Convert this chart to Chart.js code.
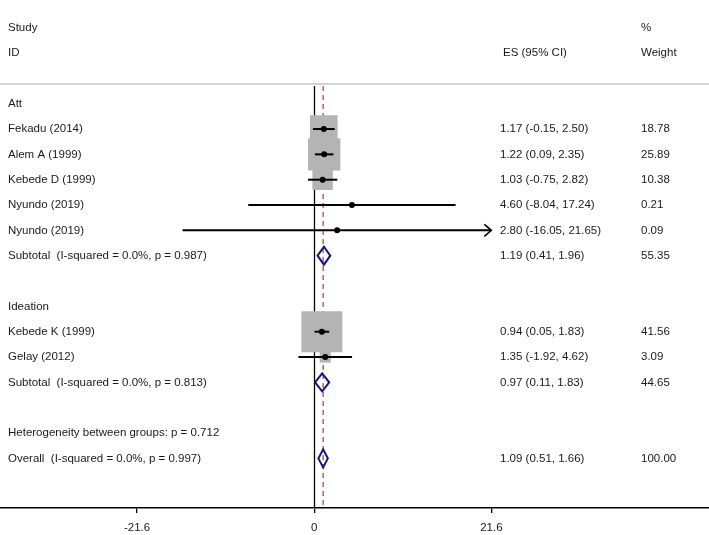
<!DOCTYPE html>
<html>
<head>
<meta charset="utf-8">
<script src="https://cdn.jsdelivr.net/npm/chart.js@4/dist/chart.umd.min.js"></script>
<style>
  html, body { margin: 0; padding: 0; background: #fff; }
  #wrap { width: 709px; height: 535px; position: relative; }
</style>
</head>
<body>
<div id="wrap"><canvas id="forest"></canvas></div>
<script>
// study rows
const studies = ["Fekadu (2014)", "Alem A (1999)", "Kebede D (1999)", "Nyundo (2019)", "Nyundo (2019)", "Kebede K (1999)", "Gelay (2012)"];
const studyRows = [1, 2, 3, 4, 5, 9, 10];
const es = [1.17, 1.22, 1.03, 4.60, 2.80, 0.94, 1.35];
const lower = [-0.15, 0.09, -0.75, -8.04, -16.05, 0.05, -1.92];
const upper = [2.50, 2.35, 2.82, 17.24, 21.65, 1.83, 4.62];
const weights = [18.78, 25.89, 10.38, 0.21, 0.09, 41.56, 3.09];

// pooled rows (subtotals + overall)
const pooledLabels = ["Subtotal  (I-squared = 0.0%, p = 0.987)", "Subtotal  (I-squared = 0.0%, p = 0.813)", "Overall  (I-squared = 0.0%, p = 0.997)"];
const pooledRows = [6, 11, 14];
const pooledEs = [1.19, 0.97, 1.09];
const pooledLower = [0.41, 0.11, 0.51];
const pooledUpper = [1.96, 1.83, 1.66];
const pooledWeights = [55.35, 44.65, 100.00];

const groups = ["Att", "Ideation"];
const groupRows = [0, 8];
const hetText = "Heterogeneity between groups: p = 0.712";
const hetRow = 13;

const overallEs = 1.09;
const tickVals = [-21.6, 0, 21.6];
const clipMin = -21.6, clipMax = 21.6;

const FONT = '11.5px "Liberation Sans", Arial, sans-serif';
const TXT = '#1a1a1a';

const boxData = studies.map((s, i) => ({ x: es[i], y: studyRows[i] }));
const boxRadius = weights.map(w => 6.36 * Math.sqrt(w) / Math.SQRT2);

const ciSets = studies.map((s, i) => ({
  type: 'line',
  data: [{ x: Math.max(lower[i], clipMin), y: studyRows[i] }, { x: Math.min(upper[i], clipMax), y: studyRows[i] }],
  borderColor: '#000', borderWidth: 2, pointRadius: 0, order: 1
}));

const forestPlugin = {
  id: 'forest',
  beforeDatasetsDraw(chart) {
    const { ctx, scales: { x, y }, chartArea } = chart;
    ctx.save();
    // header rule
    ctx.strokeStyle = '#c4c4c4';
    ctx.lineWidth = 1.5;
    ctx.beginPath(); ctx.moveTo(0, 84); ctx.lineTo(chart.width, 84); ctx.stroke();
    // no-effect line
    const x0 = Math.round(x.getPixelForValue(0)) + 0.5;
    ctx.strokeStyle = '#000';
    ctx.lineWidth = 1.3;
    ctx.beginPath(); ctx.moveTo(x0, 86); ctx.lineTo(x0, chartArea.bottom); ctx.stroke();
    // overall effect dashed line
    const xo = x.getPixelForValue(overallEs);
    ctx.strokeStyle = '#b02424';
    ctx.lineWidth = 1.1;
    ctx.setLineDash([5, 4]);
    ctx.beginPath(); ctx.moveTo(xo, 86); ctx.lineTo(xo, chartArea.bottom); ctx.stroke();
    ctx.restore();
  },
  afterDatasetsDraw(chart) {
    const { ctx, scales: { x, y } } = chart;
    ctx.save();
    // arrows for clipped CIs
    ctx.strokeStyle = '#000';
    ctx.lineWidth = 1.6;
    studies.forEach((s, i) => {
      const py = y.getPixelForValue(studyRows[i]);
      if (upper[i] > clipMax) {
        const px = x.getPixelForValue(clipMax);
        ctx.beginPath(); ctx.moveTo(px - 7, py - 6); ctx.lineTo(px, py); ctx.lineTo(px - 7, py + 6); ctx.stroke();
      }
      if (lower[i] < clipMin) {
        const px = x.getPixelForValue(clipMin);
        ctx.beginPath(); ctx.moveTo(px + 7, py - 6); ctx.lineTo(px, py); ctx.lineTo(px + 7, py + 6); ctx.stroke();
      }
    });
    // diamonds
    ctx.strokeStyle = '#14147f';
    ctx.lineWidth = 2;
    ctx.lineJoin = 'miter';
    pooledLabels.forEach((s, i) => {
      const py = y.getPixelForValue(pooledRows[i]);
      const xl = x.getPixelForValue(pooledLower[i]);
      const xm = x.getPixelForValue(pooledEs[i]);
      const xr = x.getPixelForValue(pooledUpper[i]);
      ctx.beginPath();
      ctx.moveTo(xl, py); ctx.lineTo(xm, py - 9); ctx.lineTo(xr, py); ctx.lineTo(xm, py + 9); ctx.closePath();
      ctx.stroke();
    });
    ctx.restore();
  },
  afterDraw(chart) {
    const { ctx, scales: { y } } = chart;
    ctx.save();
    ctx.font = FONT;
    ctx.fillStyle = TXT;
    ctx.textBaseline = 'middle';
    const LX = 8, EX = 500, WX = 641;
    const fmt = v => v.toFixed(2);
    const row = r => y.getPixelForValue(r);
    ctx.fillText('Study', LX, row(-3));
    ctx.fillText('%', WX, row(-3));
    ctx.fillText('ID', LX, row(-2));
    ctx.fillText('ES (95% CI)', 503, row(-2));
    ctx.fillText('Weight', WX, row(-2));
    groups.forEach((g, i) => ctx.fillText(g, LX, row(groupRows[i])));
    studies.forEach((s, i) => {
      const py = row(studyRows[i]);
      ctx.fillText(s, LX, py);
      ctx.fillText(`${fmt(es[i])} (${fmt(lower[i])}, ${fmt(upper[i])})`, EX, py);
      ctx.fillText(fmt(weights[i]), WX, py);
    });
    pooledLabels.forEach((s, i) => {
      const py = row(pooledRows[i]);
      ctx.fillText(s, LX, py);
      ctx.fillText(`${fmt(pooledEs[i])} (${fmt(pooledLower[i])}, ${fmt(pooledUpper[i])})`, EX, py);
      ctx.fillText(fmt(pooledWeights[i]), WX, py);
    });
    ctx.fillText(hetText, LX, row(hetRow));
    ctx.restore();
  }
};

new Chart(document.getElementById('forest'), {
  type: 'scatter',
  data: {
    datasets: [
      {
        data: boxData,
        pointStyle: 'circle', pointRadius: 3,
        backgroundColor: '#000', borderColor: '#000', borderWidth: 0,
        order: 0
      },
      ...ciSets,
      {
        data: boxData,
        pointStyle: 'rect', pointRadius: boxRadius,
        backgroundColor: '#b4b4b4', borderWidth: 0,
        order: 2
      }
    ]
  },
  options: {
    responsive: true,
    maintainAspectRatio: false,
    animation: false,
    layout: { padding: 0, autoPadding: false },
    plugins: { legend: { display: false }, tooltip: { enabled: false } },
    scales: {
      x: {
        type: 'linear',
        min: -38.31, max: 48.14,
        afterBuildTicks: s => { s.ticks = tickVals.map(v => ({ value: v })); },
        afterFit: s => { s.height = 27; },
        ticks: { color: TXT, font: { family: '"Liberation Sans", Arial, sans-serif', size: 11.5 }, padding: 8, maxRotation: 0, autoSkip: false,
                 callback: v => String(v) },
        grid: { display: true, drawOnChartArea: false, drawTicks: true, tickLength: 5, color: '#000', lineWidth: 1.3 },
        border: { display: true, color: '#000', width: 1.5 }
      },
      y: {
        type: 'linear', reverse: true,
        min: -4.094, max: 15.96,
        display: false
      }
    }
  },
  plugins: [forestPlugin]
});
</script>
</body>
</html>
